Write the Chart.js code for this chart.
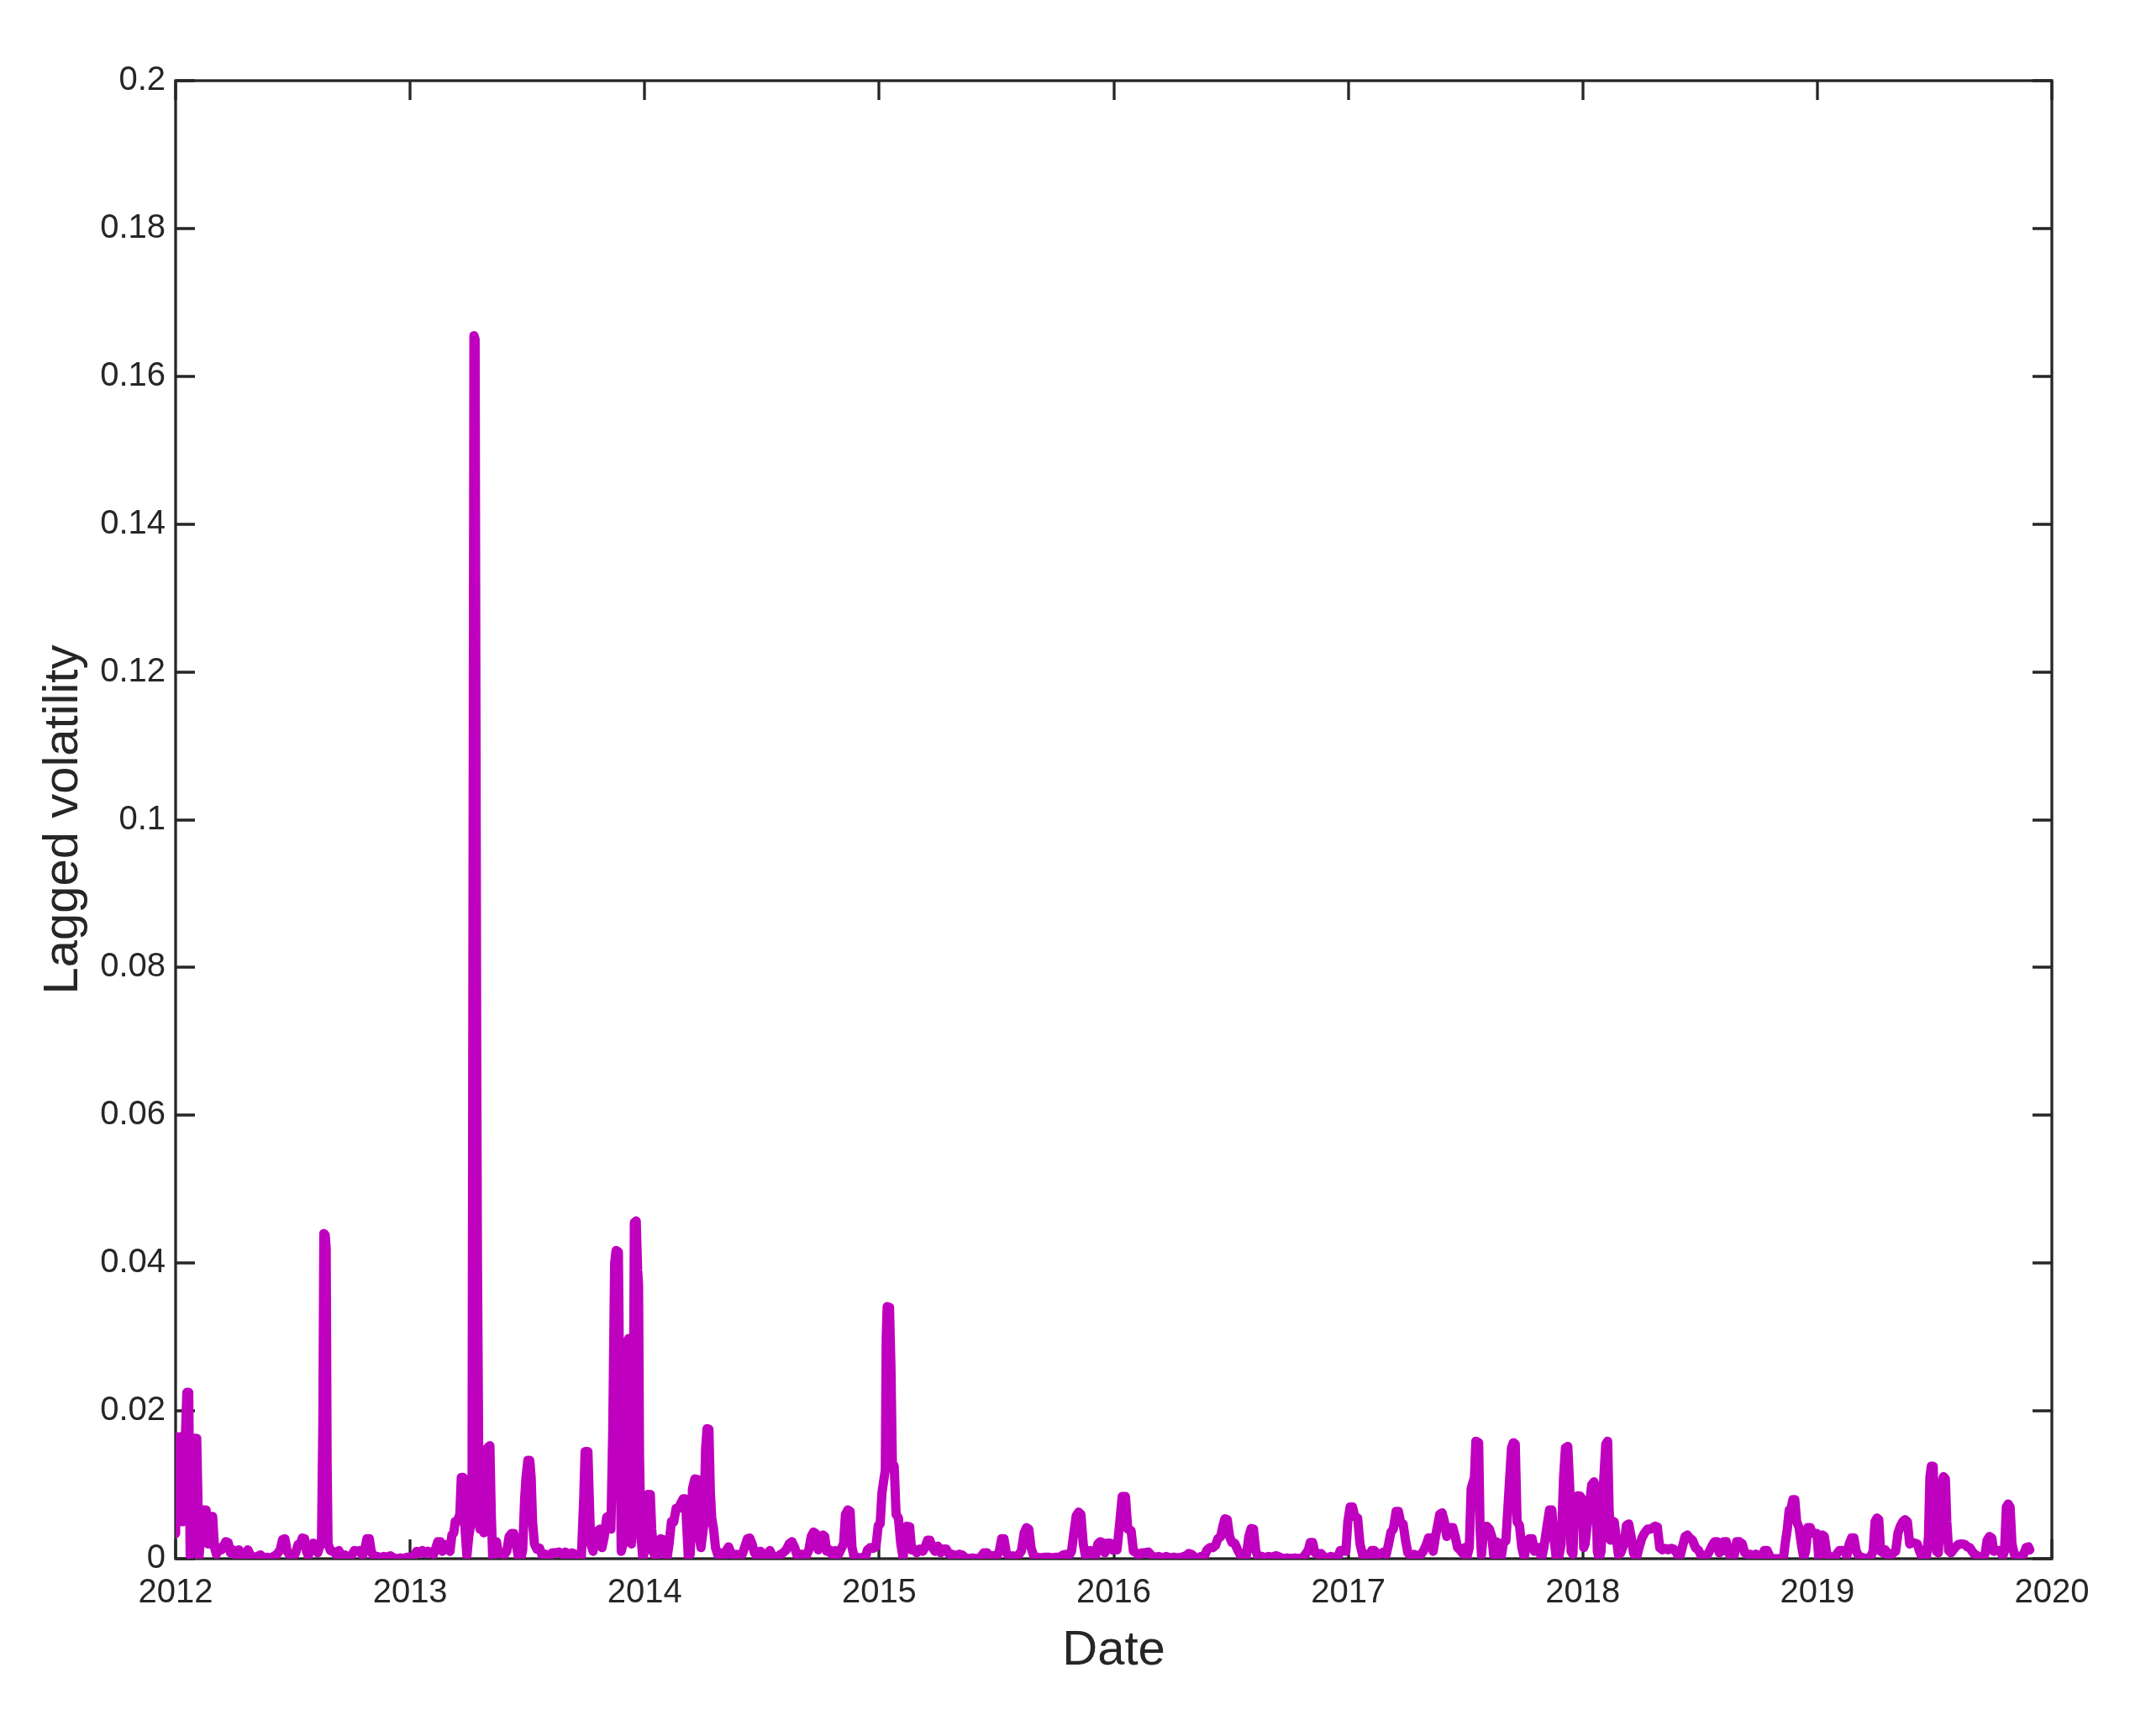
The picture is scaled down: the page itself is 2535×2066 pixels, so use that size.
<!DOCTYPE html>
<html>
<head>
<meta charset="utf-8">
<script src="https://cdn.jsdelivr.net/npm/chart.js@4/dist/chart.umd.min.js"></script>
<style>
html,body{margin:0;padding:0;background:#ffffff;}
#wrap{width:2535px;height:2066px;position:relative;}
</style>
</head>
<body>
<div id="wrap"><canvas id="c" width="2535" height="2066"></canvas></div>
<script>
// ---- Data: [decimal year, lagged volatility] ----
const d2012 = [[2012.000,0.0034],[2012.006,0.0144],[2012.014,0.0165],[2012.022,0.0165],[2012.030,0.0050],[2012.040,0.0150],[2012.048,0.0225],[2012.056,0.0225],[2012.062,0.0005],[2012.070,0.0120],[2012.080,0.0163],[2012.090,0.0163],[2012.100,0.0003],[2012.108,0.0040],[2012.118,0.0066],[2012.130,0.0066],[2012.138,0.0020],[2012.144,0.0057],[2012.158,0.0057],[2012.166,0.0015],[2012.174,0.0006],[2012.184,0.0015],[2012.196,0.0012],[2012.206,0.0018],[2012.214,0.0023],[2012.224,0.0022],[2012.234,0.0008],[2012.246,0.0012],[2012.258,0.0004],[2012.270,0.0012],[2012.282,0.0006],[2012.296,0.0003],[2012.308,0.0012],[2012.320,0.0004],[2012.334,0.0002],[2012.348,0.0003],[2012.362,0.0005],[2012.376,0.0001],[2012.390,0.0002],[2012.404,0.0001],[2012.418,0.0003],[2012.432,0.0006],[2012.446,0.0012],[2012.456,0.0026],[2012.466,0.0027],[2012.476,0.0010],[2012.488,0.0004],[2012.500,0.0002],[2012.512,0.0008],[2012.522,0.0019],[2012.532,0.0020],[2012.540,0.0028],[2012.550,0.0027],[2012.558,0.0010],[2012.566,0.0004],[2012.576,0.0015],[2012.586,0.0021],[2012.596,0.0020],[2012.606,0.0008],[2012.614,0.0016],[2012.622,0.0020],[2012.628,0.0190],[2012.632,0.0440],[2012.638,0.0438],[2012.642,0.0420],[2012.646,0.0130],[2012.650,0.0020],[2012.660,0.0011],[2012.672,0.0010],[2012.684,0.0006],[2012.696,0.0011],[2012.708,0.0003],[2012.722,0.0005],[2012.736,0.0002],[2012.750,0.0004],[2012.762,0.0011],[2012.774,0.0010],[2012.786,0.0011],[2012.798,0.0004],[2012.808,0.0015],[2012.816,0.0027],[2012.826,0.0027],[2012.834,0.0010],[2012.846,0.0002],[2012.860,0.0003],[2012.874,0.0001],[2012.888,0.0003],[2012.902,0.0002],[2012.916,0.0004],[2012.930,0.0001],[2012.944,0.0000],[2012.958,0.0001],[2012.972,0.0000],[2012.986,0.0002]];

const d2013 = [[2013.004,0.0002],[2013.016,0.0004],[2013.028,0.0010],[2013.040,0.0008],[2013.052,0.0011],[2013.064,0.0007],[2013.076,0.0010],[2013.088,0.0008],[2013.100,0.0006],[2013.110,0.0015],[2013.118,0.0023],[2013.128,0.0023],[2013.138,0.0010],[2013.148,0.0019],[2013.160,0.0019],[2013.170,0.0010],[2013.178,0.0032],[2013.186,0.0035],[2013.192,0.0050],[2013.200,0.0050],[2013.212,0.0060],[2013.218,0.0110],[2013.226,0.0110],[2013.234,0.0040],[2013.242,0.0004],[2013.250,0.0030],[2013.258,0.0045],[2013.264,0.0090],[2013.268,0.0870],[2013.272,0.1655],[2013.277,0.1650],[2013.280,0.1220],[2013.284,0.0670],[2013.287,0.0400],[2013.290,0.0260],[2013.294,0.0050],[2013.298,0.0040],[2013.306,0.0055],[2013.314,0.0035],[2013.322,0.0070],[2013.330,0.0150],[2013.340,0.0153],[2013.346,0.0060],[2013.352,0.0002],[2013.360,0.0022],[2013.368,0.0023],[2013.376,0.0008],[2013.388,0.0008],[2013.400,0.0005],[2013.412,0.0010],[2013.422,0.0030],[2013.432,0.0034],[2013.442,0.0034],[2013.452,0.0020],[2013.462,0.0001],[2013.472,0.0000],[2013.480,0.0012],[2013.488,0.0080],[2013.494,0.0110],[2013.502,0.0133],[2013.510,0.0133],[2013.516,0.0110],[2013.522,0.0050],[2013.530,0.0020],[2013.540,0.0013],[2013.552,0.0014],[2013.564,0.0004],[2013.578,0.0006],[2013.592,0.0002],[2013.606,0.0008],[2013.620,0.0008],[2013.634,0.0009],[2013.648,0.0006],[2013.662,0.0009],[2013.676,0.0005],[2013.690,0.0008],[2013.704,0.0006],[2013.718,0.0001],[2013.730,0.0002],[2013.740,0.0080],[2013.746,0.0145],[2013.758,0.0145],[2013.764,0.0080],[2013.770,0.0020],[2013.780,0.0010],[2013.790,0.0030],[2013.800,0.0038],[2013.810,0.0040],[2013.818,0.0015],[2013.828,0.0030],[2013.838,0.0056],[2013.848,0.0058],[2013.856,0.0040],[2013.864,0.0175],[2013.872,0.0400],[2013.878,0.0417],[2013.888,0.0415],[2013.894,0.0200],[2013.900,0.0010],[2013.908,0.0020],[2013.916,0.0200],[2013.922,0.0290],[2013.932,0.0298],[2013.938,0.0200],[2013.944,0.0020],[2013.950,0.0080],[2013.956,0.0455],[2013.964,0.0457],[2013.970,0.0390],[2013.974,0.0370],[2013.978,0.0140],[2013.984,0.0030],[2013.992,0.0001]];

const d2014 = [[2014.000,0.0010],[2014.008,0.0060],[2014.014,0.0087],[2014.024,0.0087],[2014.030,0.0040],[2014.038,0.0008],[2014.048,0.0001],[2014.058,0.0010],[2014.068,0.0027],[2014.078,0.0026],[2014.086,0.0008],[2014.096,0.0002],[2014.104,0.0020],[2014.114,0.0050],[2014.124,0.0050],[2014.134,0.0068],[2014.144,0.0068],[2014.154,0.0075],[2014.164,0.0081],[2014.174,0.0081],[2014.180,0.0040],[2014.186,0.0002],[2014.194,0.0006],[2014.204,0.0095],[2014.214,0.0108],[2014.226,0.0107],[2014.232,0.0030],[2014.240,0.0015],[2014.252,0.0045],[2014.260,0.0150],[2014.266,0.0176],[2014.274,0.0175],[2014.280,0.0090],[2014.286,0.0055],[2014.294,0.0040],[2014.302,0.0015],[2014.312,0.0005],[2014.322,0.0008],[2014.334,0.0002],[2014.346,0.0010],[2014.358,0.0016],[2014.368,0.0008],[2014.380,0.0002],[2014.392,0.0006],[2014.404,0.0001],[2014.416,0.0006],[2014.428,0.0017],[2014.438,0.0027],[2014.448,0.0028],[2014.458,0.0020],[2014.468,0.0008],[2014.480,0.0003],[2014.494,0.0010],[2014.508,0.0002],[2014.520,0.0006],[2014.534,0.0011],[2014.548,0.0002],[2014.562,0.0001],[2014.576,0.0005],[2014.590,0.0008],[2014.604,0.0012],[2014.616,0.0020],[2014.628,0.0023],[2014.640,0.0015],[2014.650,0.0004],[2014.662,0.0006],[2014.674,0.0006],[2014.688,0.0003],[2014.700,0.0012],[2014.710,0.0030],[2014.720,0.0036],[2014.730,0.0034],[2014.740,0.0012],[2014.750,0.0025],[2014.760,0.0032],[2014.768,0.0030],[2014.776,0.0010],[2014.788,0.0012],[2014.800,0.0005],[2014.812,0.0011],[2014.824,0.0004],[2014.836,0.0012],[2014.848,0.0020],[2014.856,0.0060],[2014.866,0.0066],[2014.876,0.0064],[2014.884,0.0015],[2014.894,0.0001],[2014.906,0.0002],[2014.918,0.0000],[2014.930,0.0002],[2014.940,0.0001],[2014.950,0.0012],[2014.962,0.0015],[2014.974,0.0014],[2014.986,0.0016],[2014.996,0.0045]];

const d2015 = [[2015.004,0.0047],[2015.012,0.0090],[2015.026,0.0120],[2015.030,0.0300],[2015.034,0.0341],[2015.044,0.0340],[2015.050,0.0260],[2015.056,0.0130],[2015.064,0.0125],[2015.072,0.0060],[2015.082,0.0055],[2015.092,0.0020],[2015.102,0.0001],[2015.110,0.0030],[2015.118,0.0044],[2015.130,0.0043],[2015.138,0.0012],[2015.148,0.0013],[2015.160,0.0008],[2015.172,0.0013],[2015.186,0.0010],[2015.196,0.0016],[2015.206,0.0025],[2015.216,0.0025],[2015.226,0.0016],[2015.238,0.0010],[2015.250,0.0017],[2015.262,0.0008],[2015.274,0.0013],[2015.286,0.0013],[2015.298,0.0006],[2015.312,0.0006],[2015.326,0.0004],[2015.340,0.0006],[2015.354,0.0005],[2015.368,0.0001],[2015.382,0.0000],[2015.398,0.0001],[2015.414,0.0000],[2015.430,0.0001],[2015.446,0.0008],[2015.460,0.0008],[2015.472,0.0003],[2015.486,0.0004],[2015.500,0.0003],[2015.512,0.0010],[2015.522,0.0027],[2015.532,0.0027],[2015.542,0.0008],[2015.556,0.0002],[2015.570,0.0004],[2015.584,0.0002],[2015.596,0.0006],[2015.606,0.0010],[2015.618,0.0035],[2015.628,0.0042],[2015.638,0.0040],[2015.648,0.0014],[2015.660,0.0003],[2015.674,0.0002],[2015.690,0.0001],[2015.706,0.0002],[2015.722,0.0002],[2015.738,0.0001],[2015.754,0.0002],[2015.770,0.0002],[2015.784,0.0005],[2015.796,0.0006],[2015.808,0.0003],[2015.820,0.0010],[2015.830,0.0035],[2015.840,0.0058],[2015.850,0.0063],[2015.860,0.0060],[2015.870,0.0020],[2015.880,0.0003],[2015.890,0.0008],[2015.900,0.0011],[2015.912,0.0010],[2015.922,0.0003],[2015.932,0.0020],[2015.942,0.0023],[2015.952,0.0022],[2015.962,0.0008],[2015.972,0.0021],[2015.984,0.0021],[2015.994,0.0012]];

const d2016 = [[2016.004,0.0015],[2016.014,0.0012],[2016.026,0.0050],[2016.036,0.0084],[2016.050,0.0084],[2016.060,0.0040],[2016.074,0.0038],[2016.084,0.0010],[2016.096,0.0008],[2016.108,0.0004],[2016.120,0.0008],[2016.134,0.0008],[2016.148,0.0009],[2016.162,0.0004],[2016.176,0.0002],[2016.192,0.0003],[2016.208,0.0001],[2016.224,0.0003],[2016.240,0.0001],[2016.256,0.0002],[2016.272,0.0001],[2016.290,0.0002],[2016.308,0.0004],[2016.320,0.0007],[2016.332,0.0006],[2016.346,0.0002],[2016.360,0.0001],[2016.372,0.0003],[2016.386,0.0003],[2016.398,0.0012],[2016.410,0.0015],[2016.422,0.0015],[2016.434,0.0018],[2016.444,0.0027],[2016.456,0.0030],[2016.466,0.0045],[2016.474,0.0054],[2016.484,0.0053],[2016.494,0.0030],[2016.504,0.0022],[2016.516,0.0021],[2016.528,0.0012],[2016.540,0.0005],[2016.552,0.0000],[2016.564,0.0001],[2016.576,0.0030],[2016.586,0.0041],[2016.596,0.0040],[2016.606,0.0010],[2016.618,0.0001],[2016.632,0.0003],[2016.646,0.0001],[2016.660,0.0003],[2016.676,0.0002],[2016.692,0.0004],[2016.708,0.0002],[2016.724,0.0000],[2016.740,0.0001],[2016.756,0.0000],[2016.772,0.0001],[2016.788,0.0000],[2016.804,0.0001],[2016.818,0.0006],[2016.830,0.0012],[2016.838,0.0022],[2016.848,0.0022],[2016.858,0.0008],[2016.870,0.0006],[2016.884,0.0007],[2016.898,0.0002],[2016.912,0.0001],[2016.926,0.0003],[2016.940,0.0002],[2016.954,0.0001],[2016.966,0.0011],[2016.978,0.0011],[2016.990,0.0010],[2016.998,0.0050]];

const d2017 = [[2017.008,0.0070],[2017.018,0.0070],[2017.028,0.0057],[2017.040,0.0055],[2017.050,0.0020],[2017.062,0.0004],[2017.074,0.0006],[2017.088,0.0002],[2017.100,0.0011],[2017.112,0.0011],[2017.124,0.0005],[2017.138,0.0007],[2017.150,0.0009],[2017.162,0.0006],[2017.172,0.0020],[2017.182,0.0036],[2017.192,0.0040],[2017.204,0.0064],[2017.214,0.0064],[2017.224,0.0048],[2017.234,0.0047],[2017.244,0.0025],[2017.254,0.0008],[2017.266,0.0004],[2017.280,0.0006],[2017.294,0.0004],[2017.308,0.0005],[2017.320,0.0010],[2017.334,0.0020],[2017.342,0.0028],[2017.352,0.0028],[2017.362,0.0010],[2017.372,0.0030],[2017.390,0.0060],[2017.400,0.0062],[2017.410,0.0050],[2017.420,0.0030],[2017.434,0.0042],[2017.446,0.0042],[2017.456,0.0030],[2017.466,0.0015],[2017.476,0.0012],[2017.486,0.0008],[2017.496,0.0015],[2017.504,0.0000],[2017.516,0.0015],[2017.524,0.0095],[2017.538,0.0110],[2017.544,0.0159],[2017.556,0.0157],[2017.562,0.0040],[2017.568,0.0005],[2017.578,0.0042],[2017.590,0.0044],[2017.602,0.0040],[2017.612,0.0030],[2017.620,0.0005],[2017.632,0.0023],[2017.642,0.0020],[2017.652,0.0002],[2017.662,0.0022],[2017.672,0.0024],[2017.682,0.0076],[2017.696,0.0150],[2017.704,0.0157],[2017.712,0.0155],[2017.720,0.0050],[2017.730,0.0045],[2017.740,0.0015],[2017.750,0.0002],[2017.760,0.0018],[2017.772,0.0027],[2017.784,0.0027],[2017.794,0.0010],[2017.804,0.0015],[2017.814,0.0015],[2017.824,0.0000],[2017.834,0.0015],[2017.848,0.0045],[2017.858,0.0066],[2017.868,0.0066],[2017.876,0.0030],[2017.886,0.0003],[2017.896,0.0000],[2017.908,0.0020],[2017.918,0.0110],[2017.926,0.0150],[2017.936,0.0152],[2017.944,0.0100],[2017.950,0.0010],[2017.958,0.0006],[2017.966,0.0080],[2017.976,0.0085],[2017.988,0.0085],[2017.998,0.0080]];

const d2018 = [[2018.004,0.0015],[2018.010,0.0020],[2018.024,0.0060],[2018.038,0.0100],[2018.048,0.0104],[2018.056,0.0090],[2018.062,0.0010],[2018.070,0.0000],[2018.078,0.0010],[2018.088,0.0100],[2018.098,0.0155],[2018.106,0.0159],[2018.112,0.0070],[2018.118,0.0025],[2018.126,0.0051],[2018.134,0.0050],[2018.142,0.0030],[2018.152,0.0005],[2018.162,0.0008],[2018.176,0.0020],[2018.186,0.0045],[2018.196,0.0047],[2018.206,0.0030],[2018.216,0.0008],[2018.228,0.0000],[2018.240,0.0015],[2018.252,0.0028],[2018.264,0.0035],[2018.276,0.0040],[2018.288,0.0040],[2018.298,0.0042],[2018.308,0.0044],[2018.318,0.0043],[2018.328,0.0015],[2018.340,0.0012],[2018.352,0.0014],[2018.364,0.0012],[2018.376,0.0014],[2018.388,0.0013],[2018.400,0.0008],[2018.412,0.0000],[2018.424,0.0015],[2018.436,0.0030],[2018.446,0.0032],[2018.456,0.0028],[2018.468,0.0025],[2018.480,0.0015],[2018.492,0.0012],[2018.504,0.0005],[2018.516,0.0002],[2018.528,0.0004],[2018.540,0.0010],[2018.552,0.0018],[2018.562,0.0023],[2018.572,0.0023],[2018.582,0.0008],[2018.592,0.0010],[2018.602,0.0023],[2018.612,0.0023],[2018.622,0.0008],[2018.634,0.0000],[2018.646,0.0005],[2018.656,0.0023],[2018.668,0.0023],[2018.680,0.0020],[2018.690,0.0008],[2018.702,0.0006],[2018.714,0.0006],[2018.726,0.0004],[2018.738,0.0006],[2018.750,0.0002],[2018.762,0.0003],[2018.774,0.0011],[2018.786,0.0011],[2018.796,0.0004],[2018.808,0.0000],[2018.822,0.0000],[2018.836,0.0000],[2018.848,0.0000],[2018.856,0.0002],[2018.864,0.0023],[2018.872,0.0040],[2018.880,0.0066],[2018.888,0.0068],[2018.896,0.0080],[2018.904,0.0080],[2018.912,0.0050],[2018.922,0.0042],[2018.934,0.0015],[2018.942,0.0002],[2018.950,0.0010],[2018.960,0.0042],[2018.970,0.0042],[2018.978,0.0035],[2018.988,0.0034],[2018.998,0.0034]];

const d2019 = [[2019.006,0.0002],[2019.014,0.0020],[2019.022,0.0032],[2019.030,0.0030],[2019.040,0.0008],[2019.046,0.0004],[2019.058,0.0002],[2019.070,0.0000],[2019.082,0.0006],[2019.094,0.0011],[2019.106,0.0011],[2019.116,0.0011],[2019.126,0.0004],[2019.136,0.0020],[2019.146,0.0028],[2019.156,0.0028],[2019.166,0.0010],[2019.178,0.0003],[2019.190,0.0002],[2019.202,0.0000],[2019.214,0.0001],[2019.226,0.0002],[2019.238,0.0010],[2019.246,0.0050],[2019.254,0.0055],[2019.262,0.0053],[2019.270,0.0010],[2019.280,0.0008],[2019.290,0.0012],[2019.300,0.0005],[2019.312,0.0004],[2019.324,0.0008],[2019.334,0.0010],[2019.344,0.0035],[2019.354,0.0044],[2019.364,0.0050],[2019.374,0.0053],[2019.384,0.0050],[2019.394,0.0020],[2019.404,0.0022],[2019.416,0.0021],[2019.426,0.0020],[2019.436,0.0010],[2019.446,0.0003],[2019.456,0.0000],[2019.466,0.0004],[2019.474,0.0030],[2019.480,0.0110],[2019.486,0.0125],[2019.494,0.0125],[2019.500,0.0060],[2019.508,0.0010],[2019.516,0.0008],[2019.524,0.0060],[2019.530,0.0100],[2019.538,0.0111],[2019.546,0.0108],[2019.552,0.0050],[2019.560,0.0011],[2019.570,0.0008],[2019.580,0.0012],[2019.590,0.0016],[2019.600,0.0019],[2019.610,0.0020],[2019.620,0.0020],[2019.630,0.0019],[2019.640,0.0016],[2019.650,0.0015],[2019.660,0.0010],[2019.670,0.0006],[2019.682,0.0004],[2019.694,0.0001],[2019.706,0.0000],[2019.716,0.0008],[2019.724,0.0025],[2019.734,0.0030],[2019.744,0.0028],[2019.752,0.0010],[2019.762,0.0011],[2019.772,0.0011],[2019.782,0.0011],[2019.790,0.0003],[2019.798,0.0010],[2019.806,0.0070],[2019.814,0.0074],[2019.822,0.0070],[2019.830,0.0020],[2019.840,0.0006],[2019.850,0.0004],[2019.860,0.0002],[2019.870,0.0004],[2019.880,0.0006],[2019.890,0.0015],[2019.900,0.0016],[2019.906,0.0012]];

// ---- Axis ticks ----
const xTicks = [2012, 2013, 2014, 2015, 2016, 2017, 2018, 2019, 2020];
const xTickLabels = ['2012','2013','2014','2015','2016','2017','2018','2019','2020'];
const yTicks = [0, 0.02, 0.04, 0.06, 0.08, 0.1, 0.12, 0.14, 0.16, 0.18, 0.2];
const yTickLabels = ['0','0.02','0.04','0.06','0.08','0.1','0.12','0.14','0.16','0.18','0.2'];

const xTitle = 'Date';
const yTitle = 'Lagged volatility';

const series = [].concat(d2012, d2013, d2014, d2015, d2016, d2017, d2018, d2019)
  .map(p => ({x: p[0], y: p[1]}));

const AXIS_COLOR = '#262626';
const FONT = '"Liberation Sans", Arial, Helvetica, sans-serif';

const boxPlugin = {
  id: 'matlabBox',
  beforeDatasetsDraw(chart) {
    const {ctx, chartArea: {left, right, top, bottom}, scales: {x, y}} = chart;
    const tl = 23;
    ctx.save();
    ctx.strokeStyle = AXIS_COLOR;
    ctx.lineWidth = 3.3;
    ctx.lineCap = 'butt';
    ctx.strokeRect(left, top, right - left, bottom - top);
    ctx.beginPath();
    xTicks.forEach(v => {
      const px = Math.round(x.getPixelForValue(v));
      ctx.moveTo(px, bottom); ctx.lineTo(px, bottom - tl);
      ctx.moveTo(px, top); ctx.lineTo(px, top + tl);
    });
    yTicks.forEach(v => {
      const py = Math.round(y.getPixelForValue(v));
      ctx.moveTo(left, py); ctx.lineTo(left + tl, py);
      ctx.moveTo(right, py); ctx.lineTo(right - tl, py);
    });
    ctx.stroke();
    ctx.restore();
  }
};

new Chart(document.getElementById('c').getContext('2d'), {
  type: 'line',
  data: {
    datasets: [{
      data: series,
      borderColor: '#BF00BF',
      backgroundColor: '#BF00BF',
      borderWidth: 11,
      pointRadius: 0,
      pointHoverRadius: 0,
      fill: false,
      tension: 0,
      borderJoinStyle: 'round',
      borderCapStyle: 'round'
    }]
  },
  options: {
    responsive: false,
    animation: false,
    parsing: false,
    normalized: true,
    layout: {padding: {left: 0, right: 93, top: 96, bottom: 0}},
    plugins: {legend: {display: false}, tooltip: {enabled: false}},
    scales: {
      x: {
        type: 'linear', min: 2012, max: 2020,
        afterBuildTicks: s => { s.ticks = xTicks.map(v => ({value: v})); },
        afterFit: s => { s.height = 211; },
        ticks: {
          autoSkip: false, maxRotation: 0, minRotation: 0, padding: 17,
          color: AXIS_COLOR, font: {family: FONT, size: 40},
          callback: (v, i) => xTickLabels[i]
        },
        grid: {display: false, drawTicks: false},
        border: {display: false},
        title: {display: true, text: xTitle, color: AXIS_COLOR,
                font: {family: FONT, size: 58}, padding: {top: 0, bottom: 66}}
      },
      y: {
        type: 'linear', min: 0, max: 0.2,
        afterBuildTicks: s => { s.ticks = yTicks.map(v => ({value: v})); },
        afterFit: s => { s.width = 209; },
        ticks: {
          autoSkip: false, padding: 12,
          color: AXIS_COLOR, font: {family: FONT, size: 40},
          callback: (v, i) => yTickLabels[i]
        },
        grid: {display: false, drawTicks: false},
        border: {display: false},
        title: {display: true, text: yTitle, color: AXIS_COLOR,
                font: {family: FONT, size: 58}, padding: {top: 41, bottom: 0}}
      }
    }
  },
  plugins: [boxPlugin]
});
</script>
</body>
</html>
